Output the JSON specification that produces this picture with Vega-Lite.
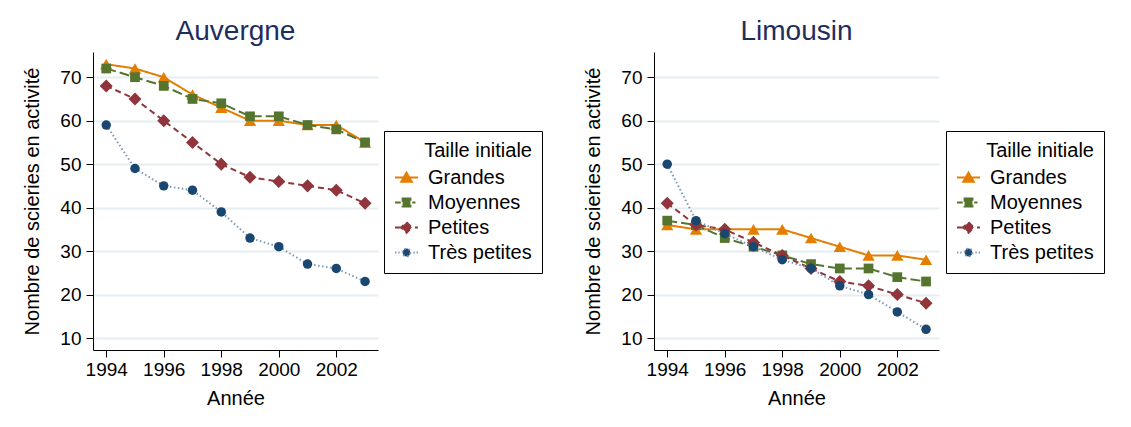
{
  "$schema": "https://vega.github.io/schema/vega-lite/v6.json",
  "background": "white",
  "padding": {"left": 22, "top": 18, "right": 0, "bottom": 0},
  "spacing": 40,
  "datasets": {
    "scieries": [
      {"region": "Auvergne", "taille": "Grandes", "annee": 1994, "n": 73},
      {"region": "Auvergne", "taille": "Grandes", "annee": 1995, "n": 72},
      {"region": "Auvergne", "taille": "Grandes", "annee": 1996, "n": 70},
      {"region": "Auvergne", "taille": "Grandes", "annee": 1997, "n": 66},
      {"region": "Auvergne", "taille": "Grandes", "annee": 1998, "n": 63},
      {"region": "Auvergne", "taille": "Grandes", "annee": 1999, "n": 60},
      {"region": "Auvergne", "taille": "Grandes", "annee": 2000, "n": 60},
      {"region": "Auvergne", "taille": "Grandes", "annee": 2001, "n": 59},
      {"region": "Auvergne", "taille": "Grandes", "annee": 2002, "n": 59},
      {"region": "Auvergne", "taille": "Grandes", "annee": 2003, "n": 55},
      {"region": "Auvergne", "taille": "Moyennes", "annee": 1994, "n": 72},
      {"region": "Auvergne", "taille": "Moyennes", "annee": 1995, "n": 70},
      {"region": "Auvergne", "taille": "Moyennes", "annee": 1996, "n": 68},
      {"region": "Auvergne", "taille": "Moyennes", "annee": 1997, "n": 65},
      {"region": "Auvergne", "taille": "Moyennes", "annee": 1998, "n": 64},
      {"region": "Auvergne", "taille": "Moyennes", "annee": 1999, "n": 61},
      {"region": "Auvergne", "taille": "Moyennes", "annee": 2000, "n": 61},
      {"region": "Auvergne", "taille": "Moyennes", "annee": 2001, "n": 59},
      {"region": "Auvergne", "taille": "Moyennes", "annee": 2002, "n": 58},
      {"region": "Auvergne", "taille": "Moyennes", "annee": 2003, "n": 55},
      {"region": "Auvergne", "taille": "Petites", "annee": 1994, "n": 68},
      {"region": "Auvergne", "taille": "Petites", "annee": 1995, "n": 65},
      {"region": "Auvergne", "taille": "Petites", "annee": 1996, "n": 60},
      {"region": "Auvergne", "taille": "Petites", "annee": 1997, "n": 55},
      {"region": "Auvergne", "taille": "Petites", "annee": 1998, "n": 50},
      {"region": "Auvergne", "taille": "Petites", "annee": 1999, "n": 47},
      {"region": "Auvergne", "taille": "Petites", "annee": 2000, "n": 46},
      {"region": "Auvergne", "taille": "Petites", "annee": 2001, "n": 45},
      {"region": "Auvergne", "taille": "Petites", "annee": 2002, "n": 44},
      {"region": "Auvergne", "taille": "Petites", "annee": 2003, "n": 41},
      {"region": "Auvergne", "taille": "Très petites", "annee": 1994, "n": 59},
      {"region": "Auvergne", "taille": "Très petites", "annee": 1995, "n": 49},
      {"region": "Auvergne", "taille": "Très petites", "annee": 1996, "n": 45},
      {"region": "Auvergne", "taille": "Très petites", "annee": 1997, "n": 44},
      {"region": "Auvergne", "taille": "Très petites", "annee": 1998, "n": 39},
      {"region": "Auvergne", "taille": "Très petites", "annee": 1999, "n": 33},
      {"region": "Auvergne", "taille": "Très petites", "annee": 2000, "n": 31},
      {"region": "Auvergne", "taille": "Très petites", "annee": 2001, "n": 27},
      {"region": "Auvergne", "taille": "Très petites", "annee": 2002, "n": 26},
      {"region": "Auvergne", "taille": "Très petites", "annee": 2003, "n": 23},
      {"region": "Limousin", "taille": "Grandes", "annee": 1994, "n": 36},
      {"region": "Limousin", "taille": "Grandes", "annee": 1995, "n": 35},
      {"region": "Limousin", "taille": "Grandes", "annee": 1996, "n": 35},
      {"region": "Limousin", "taille": "Grandes", "annee": 1997, "n": 35},
      {"region": "Limousin", "taille": "Grandes", "annee": 1998, "n": 35},
      {"region": "Limousin", "taille": "Grandes", "annee": 1999, "n": 33},
      {"region": "Limousin", "taille": "Grandes", "annee": 2000, "n": 31},
      {"region": "Limousin", "taille": "Grandes", "annee": 2001, "n": 29},
      {"region": "Limousin", "taille": "Grandes", "annee": 2002, "n": 29},
      {"region": "Limousin", "taille": "Grandes", "annee": 2003, "n": 28},
      {"region": "Limousin", "taille": "Moyennes", "annee": 1994, "n": 37},
      {"region": "Limousin", "taille": "Moyennes", "annee": 1995, "n": 36},
      {"region": "Limousin", "taille": "Moyennes", "annee": 1996, "n": 33},
      {"region": "Limousin", "taille": "Moyennes", "annee": 1997, "n": 31},
      {"region": "Limousin", "taille": "Moyennes", "annee": 1998, "n": 29},
      {"region": "Limousin", "taille": "Moyennes", "annee": 1999, "n": 27},
      {"region": "Limousin", "taille": "Moyennes", "annee": 2000, "n": 26},
      {"region": "Limousin", "taille": "Moyennes", "annee": 2001, "n": 26},
      {"region": "Limousin", "taille": "Moyennes", "annee": 2002, "n": 24},
      {"region": "Limousin", "taille": "Moyennes", "annee": 2003, "n": 23},
      {"region": "Limousin", "taille": "Petites", "annee": 1994, "n": 41},
      {"region": "Limousin", "taille": "Petites", "annee": 1995, "n": 36},
      {"region": "Limousin", "taille": "Petites", "annee": 1996, "n": 35},
      {"region": "Limousin", "taille": "Petites", "annee": 1997, "n": 32},
      {"region": "Limousin", "taille": "Petites", "annee": 1998, "n": 29},
      {"region": "Limousin", "taille": "Petites", "annee": 1999, "n": 26},
      {"region": "Limousin", "taille": "Petites", "annee": 2000, "n": 23},
      {"region": "Limousin", "taille": "Petites", "annee": 2001, "n": 22},
      {"region": "Limousin", "taille": "Petites", "annee": 2002, "n": 20},
      {"region": "Limousin", "taille": "Petites", "annee": 2003, "n": 18},
      {"region": "Limousin", "taille": "Très petites", "annee": 1994, "n": 50},
      {"region": "Limousin", "taille": "Très petites", "annee": 1995, "n": 37},
      {"region": "Limousin", "taille": "Très petites", "annee": 1996, "n": 34},
      {"region": "Limousin", "taille": "Très petites", "annee": 1997, "n": 31},
      {"region": "Limousin", "taille": "Très petites", "annee": 1998, "n": 28},
      {"region": "Limousin", "taille": "Très petites", "annee": 1999, "n": 26},
      {"region": "Limousin", "taille": "Très petites", "annee": 2000, "n": 22},
      {"region": "Limousin", "taille": "Très petites", "annee": 2001, "n": 20},
      {"region": "Limousin", "taille": "Très petites", "annee": 2002, "n": 16},
      {"region": "Limousin", "taille": "Très petites", "annee": 2003, "n": 12}
    ]
  },
  "hconcat": [
    {
      "title": {"text": "Auvergne"},
      "width": 285,
      "height": 298,
      "data": {"name": "scieries"},
      "transform": [{"filter": "datum.region === 'Auvergne'"}],
      "encoding": {
        "x": {"field": "annee", "type": "quantitative", "title": "Année",
              "scale": {"domain": [1993.54, 2003.45], "nice": false, "zero": false},
              "axis": {"values": [1994, 1996, 1998, 2000, 2002], "format": "d", "grid": false}},
        "y": {"field": "n", "type": "quantitative", "title": "Nombre de scieries en activité",
              "scale": {"domain": [7.24, 75.8], "nice": false, "zero": false},
              "axis": {"values": [10, 20, 30, 40, 50, 60, 70], "grid": true}}
      },
      "layer": [
        {
          "mark": {"type": "line", "strokeWidth": 2},
          "encoding": {
            "stroke": {"field": "taille", "type": "nominal", "title": "Taille initiale",
                       "scale": {"domain": ["Grandes", "Moyennes", "Petites", "Très petites"], "range": ["#E37E00", "#55752F", "#90353B", "#7F98B8"]},
                       "legend": {
                         "orient": "none", "legendX": 291, "legendY": 79,
                         "titleAnchor": "end",
                         "encode": {"symbols": {"update": {
                           "shape": {"signal": "datum.value === 'Grandes' ? 'M-1,0H1M0,-0.42L0.46,0.38L-0.46,0.38Z' : datum.value === 'Moyennes' ? 'M-1,0H-0.5M0.5,0H0.78M-0.34,-0.34H0.34V0.34H-0.34Z' : datum.value === 'Petites' ? 'M-1,0H1M0,-0.46L0.46,0L0,0.46L-0.46,0Z' : 'M-1,0H-0.88M-0.72,0H-0.6M0.6,0H0.72M0.88,0H1M0.34,0A0.34,0.34,0,1,1,-0.34,0A0.34,0.34,0,1,1,0.34,0Z'"},
                           "stroke": {"signal": "datum.value === 'Grandes' ? '#E37E00' : datum.value === 'Moyennes' ? '#55752F' : datum.value === 'Petites' ? '#90353B' : '#1A476F'"},
                           "fill": {"signal": "datum.value === 'Grandes' ? '#E37E00' : datum.value === 'Moyennes' ? '#55752F' : datum.value === 'Petites' ? '#90353B' : '#1A476F'"},
                           "strokeWidth": {"value": 2},
                           "strokeDash": {"value": [1, 0]},
                           "opacity": {"value": 1},
                           "size": {"value": 529}
                         }}}
                       }},
            "strokeDash": {"field": "taille", "type": "nominal", "title": "Taille initiale",
                       "scale": {"domain": ["Grandes", "Moyennes", "Petites", "Très petites"], "range": [[1, 0], [10, 4], [6, 4], [1.5, 2.5]]}}
          }
        },
        {"transform": [{"filter": "datum.taille === 'Grandes'"}], "mark": {"type": "point", "filled": true, "opacity": 1, "strokeWidth": 0, "shape": "triangle-up", "size": 150, "color": "#E37E00"}},
        {"transform": [{"filter": "datum.taille === 'Moyennes'"}], "mark": {"type": "point", "filled": true, "opacity": 1, "strokeWidth": 0, "shape": "square", "size": 95, "color": "#55752F"}},
        {"transform": [{"filter": "datum.taille === 'Petites'"}], "mark": {"type": "point", "filled": true, "opacity": 1, "strokeWidth": 0, "shape": "diamond", "size": 170, "color": "#90353B"}},
        {"transform": [{"filter": "datum.taille === 'Très petites'"}], "mark": {"type": "point", "filled": true, "opacity": 1, "strokeWidth": 0, "shape": "circle", "size": 90, "color": "#1A476F"}}
      ]
    },
    {
      "title": {"text": "Limousin"},
      "width": 285,
      "height": 298,
      "data": {"name": "scieries"},
      "transform": [{"filter": "datum.region === 'Limousin'"}],
      "encoding": {
        "x": {"field": "annee", "type": "quantitative", "title": "Année",
              "scale": {"domain": [1993.54, 2003.45], "nice": false, "zero": false},
              "axis": {"values": [1994, 1996, 1998, 2000, 2002], "format": "d", "grid": false}},
        "y": {"field": "n", "type": "quantitative", "title": "Nombre de scieries en activité",
              "scale": {"domain": [7.24, 75.8], "nice": false, "zero": false},
              "axis": {"values": [10, 20, 30, 40, 50, 60, 70], "grid": true}}
      },
      "layer": [
        {
          "mark": {"type": "line", "strokeWidth": 2},
          "encoding": {
            "stroke": {"field": "taille", "type": "nominal", "title": "Taille initiale",
                       "scale": {"domain": ["Grandes", "Moyennes", "Petites", "Très petites"], "range": ["#E37E00", "#55752F", "#90353B", "#7F98B8"]},
                       "legend": {
                         "orient": "none", "legendX": 292, "legendY": 79,
                         "titleAnchor": "end",
                         "encode": {"symbols": {"update": {
                           "shape": {"signal": "datum.value === 'Grandes' ? 'M-1,0H1M0,-0.42L0.46,0.38L-0.46,0.38Z' : datum.value === 'Moyennes' ? 'M-1,0H-0.5M0.5,0H0.78M-0.34,-0.34H0.34V0.34H-0.34Z' : datum.value === 'Petites' ? 'M-1,0H1M0,-0.46L0.46,0L0,0.46L-0.46,0Z' : 'M-1,0H-0.88M-0.72,0H-0.6M0.6,0H0.72M0.88,0H1M0.34,0A0.34,0.34,0,1,1,-0.34,0A0.34,0.34,0,1,1,0.34,0Z'"},
                           "stroke": {"signal": "datum.value === 'Grandes' ? '#E37E00' : datum.value === 'Moyennes' ? '#55752F' : datum.value === 'Petites' ? '#90353B' : '#1A476F'"},
                           "fill": {"signal": "datum.value === 'Grandes' ? '#E37E00' : datum.value === 'Moyennes' ? '#55752F' : datum.value === 'Petites' ? '#90353B' : '#1A476F'"},
                           "strokeWidth": {"value": 2},
                           "strokeDash": {"value": [1, 0]},
                           "opacity": {"value": 1},
                           "size": {"value": 529}
                         }}}
                       }},
            "strokeDash": {"field": "taille", "type": "nominal", "title": "Taille initiale",
                       "scale": {"domain": ["Grandes", "Moyennes", "Petites", "Très petites"], "range": [[1, 0], [10, 4], [6, 4], [1.5, 2.5]]}}
          }
        },
        {"transform": [{"filter": "datum.taille === 'Grandes'"}], "mark": {"type": "point", "filled": true, "opacity": 1, "strokeWidth": 0, "shape": "triangle-up", "size": 150, "color": "#E37E00"}},
        {"transform": [{"filter": "datum.taille === 'Moyennes'"}], "mark": {"type": "point", "filled": true, "opacity": 1, "strokeWidth": 0, "shape": "square", "size": 95, "color": "#55752F"}},
        {"transform": [{"filter": "datum.taille === 'Petites'"}], "mark": {"type": "point", "filled": true, "opacity": 1, "strokeWidth": 0, "shape": "diamond", "size": 170, "color": "#90353B"}},
        {"transform": [{"filter": "datum.taille === 'Très petites'"}], "mark": {"type": "point", "filled": true, "opacity": 1, "strokeWidth": 0, "shape": "circle", "size": 90, "color": "#1A476F"}}
      ]
    }
  ],
  "resolve": {
    "scale": {"x": "independent", "y": "independent", "stroke": "independent", "strokeDash": "independent"},
    "legend": {"stroke": "independent", "strokeDash": "independent"}
  },
  "config": {
    "font": "Liberation Sans",
    "view": {"stroke": null},
    "title": {"font": "Liberation Sans", "fontSize": 28, "fontWeight": "normal", "color": "#1F2D5C", "anchor": "middle", "frame": "group", "offset": 6},
    "axis": {
      "labelFont": "Liberation Sans", "labelFontSize": 19, "labelColor": "black",
      "titleFont": "Liberation Sans", "titleFontSize": 20, "titleFontWeight": "normal", "titleColor": "black",
      "domainColor": "black", "domainWidth": 1, "tickColor": "black", "tickWidth": 1, "tickSize": 7,
      "gridColor": "#E6EEF2", "gridWidth": 2, "labelPadding": 4
    },
    "axisY": {"titlePadding": 17, "labelPadding": 5},
    "axisX": {"titlePadding": 9, "labelPadding": 3},
    "legend": {
      "labelFont": "Liberation Sans", "labelFontSize": 20, "labelColor": "black",
      "titleFont": "Liberation Sans", "titleFontSize": 20, "titleFontWeight": "normal", "titleColor": "black",
      "strokeColor": "black", "strokeWidth": 1, "fillColor": "white", "padding": 10,
      "symbolSize": 529, "labelOffset": 9, "rowPadding": 2, "titlePadding": 4
    }
  }
}
